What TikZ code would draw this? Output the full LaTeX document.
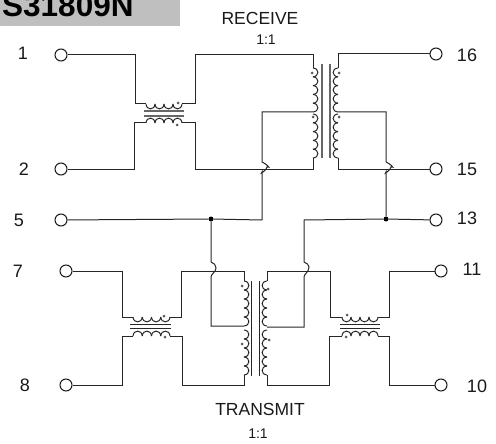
\documentclass[tikz,border=0pt]{standalone}
\usepackage{fontspec}
\setmainfont{Liberation Sans}
\newcommand{\hcoil}[4]{% x start, y, hump width, depth; 4 humps
  \foreach \i in {0,1,2,3}{
    \draw[coilline] ({#1+\i*#3},#2) .. controls ({#1+\i*#3+.05*#3},{#2+1.3*#4}) and ({#1+\i*#3+.95*#3},{#2+1.3*#4}) .. ({#1+\i*#3+#3},#2);
  }}
\newcommand{\vcoil}[4]{% x, y start, hump height, depth; 5 humps
  \foreach \i in {0,1,2,3,4}{
    \draw[coilline] (#1,{#2+\i*#3}) .. controls ({#1+1.3*#4},{#2+\i*#3+.05*#3}) and ({#1+1.3*#4},{#2+\i*#3+.95*#3}) .. (#1,{#2+\i*#3+#3});
  }}
\tikzset{
  wire/.style={draw=black!85,line width=1pt},
  coilline/.style={draw=black!85,line width=1pt},
  coreline/.style={draw=black!60,line width=1.2pt},
  coredark/.style={draw=black!85,line width=1pt},
  termnode/.style={circle,draw=black!90,line width=1pt,fill=white,minimum size=12pt,inner sep=0pt},
  junct/.style={circle,fill=black,minimum size=5pt,inner sep=0pt},
  tdot/.style={circle,fill=black!65,minimum size=3pt,inner sep=0pt},
  pinlabel/.style={font=\fontsize{18}{20}\selectfont,text=black!90},
  captext/.style={font=\fontsize{17.5}{20}\selectfont,text=black!90},
  ratiotext/.style={font=\fontsize{14}{16}\selectfont,text=black!90},
  hopdown/.style={to path={-- ++(0,50) .. controls +(3,1) and +(5,2) .. ++(5,5) .. controls +(0,3) and +(-3,3) .. ++(-5,5) -- (\tikztotarget)}}
}
\begin{document}
\begin{tikzpicture}[x=1pt,y=-1pt]
\useasboundingbox (0,0) rectangle (496,444);
\begin{scope}
\clip (0,0) rectangle (496,444);
\fill[black!25] (0,0) rectangle (180,26);
\node[anchor=base west,inner sep=0pt,font=\fontsize{31.5}{33}\selectfont\bfseries] (title) at (2,17) {S31809N};
\end{scope}
% text
\node[captext] (recv) at (260,18.5) {RECEIVE};
\node[ratiotext] (r11) at (266,40) {1:1};
\node[captext] (trans) at (260,409.5) {TRANSMIT};
\node[ratiotext] (t11lab) at (258,434) {1:1};
\node[pinlabel] (l1) at (23,53) {1};
\node[pinlabel] (l2) at (24,169) {2};
\node[pinlabel] (l5) at (19,220.5) {5};
\node[pinlabel] (l7) at (18,271) {7};
\node[pinlabel] (l8) at (25,385) {8};
\node[pinlabel] (l16) at (467,55) {16};
\node[pinlabel] (l15) at (467,169) {15};
\node[pinlabel] (l13) at (467,218) {13};
\node[pinlabel] (l11) at (472,269) {11};
\node[pinlabel] (l10) at (477,386) {10};
% junctions
\node[junct] (jl) at (211,219) {};
\node[junct] (jr) at (386,219) {};
% coordinates of coil ends
\coordinate (tlu1) at (146,104); \coordinate (tlu2) at (182,104);
\coordinate (tll1) at (146,123); \coordinate (tll2) at (182,123);
\coordinate (blu1) at (133,317); \coordinate (blu2) at (170,317);
\coordinate (bll1) at (133,336); \coordinate (bll2) at (170,336);
\coordinate (bru1) at (342,317); \coordinate (bru2) at (378,317);
\coordinate (brl1) at (342,336); \coordinate (brl2) at (378,336);
\coordinate (rtl) at (313,55); \coordinate (rbl) at (313,169); \coordinate (rcl) at (313,112);
\coordinate (rtr) at (338,55); \coordinate (rbr) at (338,169); \coordinate (rcr) at (338,112);
\coordinate (ttl) at (244,271); \coordinate (tbl) at (244,385); \coordinate (tcl) at (244,326);
\coordinate (ttr) at (267,271); \coordinate (tbr) at (267,385); \coordinate (tcr) at (267,327);
% terminals
\node[termnode] (t1) at (61,55) {};
\node[termnode] (t2) at (61,169) {};
\node[termnode] (t5) at (61,220) {};
\node[termnode] (t7) at (66,271) {};
\node[termnode] (t8) at (66,385) {};
\node[termnode] (t16) at (436,54) {};
\node[termnode] (t15) at (436,169) {};
\node[termnode] (t13) at (436,220) {};
\node[termnode] (t11) at (441,271) {};
\node[termnode] (t10) at (441,385) {};
% wires, receive side
\draw[wire] (t1) -- (135,55) -- (135,104) -- (tlu1);
\draw[wire] (tlu2) -- (195,104) -- (195,55) -- (rtl) -- (313,68);
\draw[wire] (t2) -- (134,169) -- (134,123) -- (tll1);
\draw[wire] (tll2) -- (195,123) -- (195,169) -- (rbl) -- (313,158);
\draw[wire] (rcl) -- (262,112) to[hopdown] (262,220);
\draw[wire] (t5) -- (jl) -- (262,220);
\draw[wire] (t16) -- (338,54) -- (338,68);
\draw[wire] (t15) -- (rbr) -- (338,158);
\draw[wire] (rcr) -- (386,112) to[hopdown] (jr);
\draw[wire] (t13) -- (jr) -- (304,220) -- (304,262) .. controls (307,263) and (309,265) .. (309,267) .. controls (309,272) and (304,274) .. (304,277) -- (304,327) -- (tcr);
% wires, transmit side
\draw[wire] (jl) -- (211,262) .. controls (214,263) and (216,265) .. (216,268) .. controls (216,272) and (211,274) .. (211,277) -- (211,326) -- (tcl);
\draw[wire] (t7) -- (122,271) -- (122,317) -- (blu1);
\draw[wire] (blu2) -- (181,317) -- (181,271) -- (ttl) -- (244,281);
\draw[wire] (t8) -- (122,385) -- (122,336) -- (bll1);
\draw[wire] (bll2) -- (182,336) -- (182,385) -- (tbl) -- (244,375);
\draw[wire] (ttr) -- (267,281);
\draw[wire] (267,375) -- (tbr) -- (329,385) -- (329,336) -- (brl1);
\draw[wire] (ttr) -- (330,271) -- (330,317) -- (bru1);
\draw[wire] (bru2) -- (389,317) -- (389,271) -- (t11);
\draw[wire] (brl2) -- (389,336) -- (389,385) -- (t10);
% cores
\draw[coreline] (144,111) -- (184,111); \draw[coreline] (144,116) -- (184,116);
\draw[coredark] (130,324) -- (171,324); \draw[coredark] (130,328) -- (171,328);
\draw[coredark] (340,324) -- (380,324); \draw[coredark] (340,328) -- (380,328);
\draw[coreline] (322,64) -- (322,158); \draw[coreline] (330,64) -- (330,158);
\draw[coredark] (251,281) -- (251,376); \draw[coredark] (259,281) -- (259,376);
% coils
\hcoil{146}{104}{9}{5}
\hcoil{146}{123}{9}{-5}
\hcoil{133}{317}{9.25}{5}
\hcoil{133}{336}{9.25}{-5}
\hcoil{342}{317}{9}{5}
\hcoil{342}{336}{9}{-5}
\vcoil{313}{68}{8.8}{5}
\vcoil{313}{114}{8.8}{5}
\vcoil{338}{68}{8.8}{-5}
\vcoil{338}{114}{8.8}{-5}
\vcoil{244}{281}{9}{5}
\vcoil{244}{330}{9}{5}
\vcoil{267}{281}{9}{-5}
\vcoil{267}{330}{9}{-5}
% dots
\foreach \n/\x/\y in {a/178/103,b/177/125,c/312/73,d/313/117,e/339/73,f/339/117,g/242/286,h/242/344,i/268/289,j/269/340,k/164/316,l/165/337,m/347/315,n/346/337}
  \node[tdot] (dot\n) at (\x,\y) {};
\end{tikzpicture}
\end{document}
